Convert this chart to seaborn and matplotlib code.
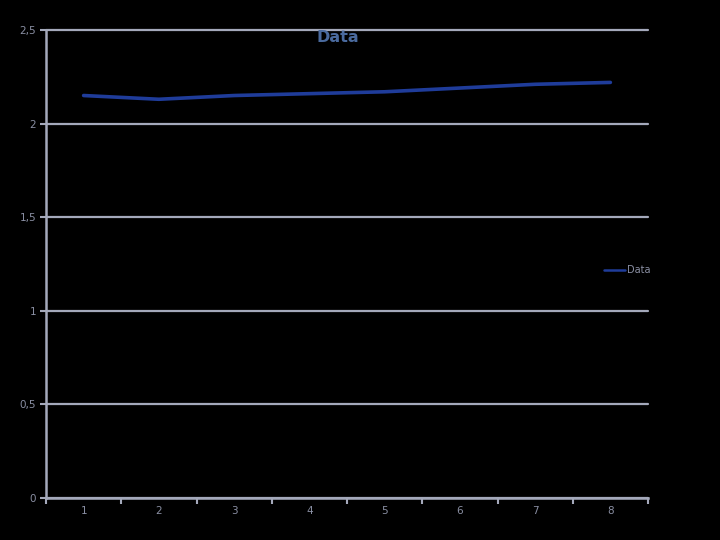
"""Single series line chart on a dark background."""

import matplotlib.pyplot as plt
import seaborn as sns
import pandas as pd
from matplotlib.ticker import FixedLocator, NullFormatter

categories = [1, 2, 3, 4, 5, 6, 7, 8]
values = [2.15, 2.13, 2.15, 2.16, 2.17, 2.19, 2.21, 2.22]
y_ticks = [0, 0.5, 1, 1.5, 2, 2.5]
y_labels = ["0", "0,5", "1", "1,5", "2", "2,5"]
series_name = "Data"

GRID = "#a4a9bb"
TEXT = "#8a8fa3"
LINE = "#1f3c9a"
TITLE = "#4a6a9e"

sns.set_style("dark")
plt.rcParams["font.family"] = ["DejaVu Sans"]

df = pd.DataFrame({"x": categories, "y": values, "series": series_name})

fig = plt.figure(figsize=(7.2, 5.4), dpi=100, facecolor="black")
ax = fig.add_axes([46 / 720, 1 - 498 / 540, 602 / 720, 468 / 540])
ax.set_facecolor("black")

sns.lineplot(data=df, x="x", y="y", hue="series", palette=[LINE],
             linewidth=2.6, ax=ax)

ax.set_xlim(0.5, 8.5)
ax.set_ylim(0, 2.5)

# y axis
ax.set_yticks(y_ticks)
ax.set_yticklabels(y_labels)
ax.yaxis.grid(True, color=GRID, linewidth=1.6)
ax.xaxis.grid(False)
for gl in ax.get_ygridlines():
    gl.set_clip_on(False)

# x axis: ticks at bin edges, labels at centres
ax.xaxis.set_major_locator(FixedLocator([c - 0.5 for c in categories] + [8.5]))
ax.xaxis.set_major_formatter(NullFormatter())
ax.xaxis.set_minor_locator(FixedLocator(categories))
ax.set_xticklabels([str(c) for c in categories], minor=True)

ax.tick_params(axis="x", which="major", length=4, width=1.5, color=GRID,
               direction="out", bottom=True)
ax.tick_params(axis="x", which="minor", length=0, labelsize=7.5,
               labelcolor=TEXT, pad=6, bottom=True)
ax.tick_params(axis="y", length=4, width=1.5, color=GRID, labelsize=7.5,
               labelcolor=TEXT, pad=3, left=True)

for side in ["top", "right"]:
    ax.spines[side].set_visible(False)
for side in ["left", "bottom"]:
    ax.spines[side].set_color(GRID)
    ax.spines[side].set_linewidth(1.8)

ax.set_xlabel("")
ax.set_ylabel("")

fig.text(338 / 720, 1 - 37 / 540, "Data", ha="center", va="center",
         fontsize=11.5, fontweight="bold", color=TITLE)

leg = ax.legend(loc="center left", bbox_to_anchor=(0.927, 0.487), frameon=False,
                fontsize=7, handlelength=2.2, handletextpad=0.15,
                borderaxespad=0, borderpad=0)
for t in leg.get_texts():
    t.set_color(TEXT)
for h in leg.get_lines():
    h.set_linewidth(1.8)

fig.savefig("out.png", dpi=100, facecolor="black")
